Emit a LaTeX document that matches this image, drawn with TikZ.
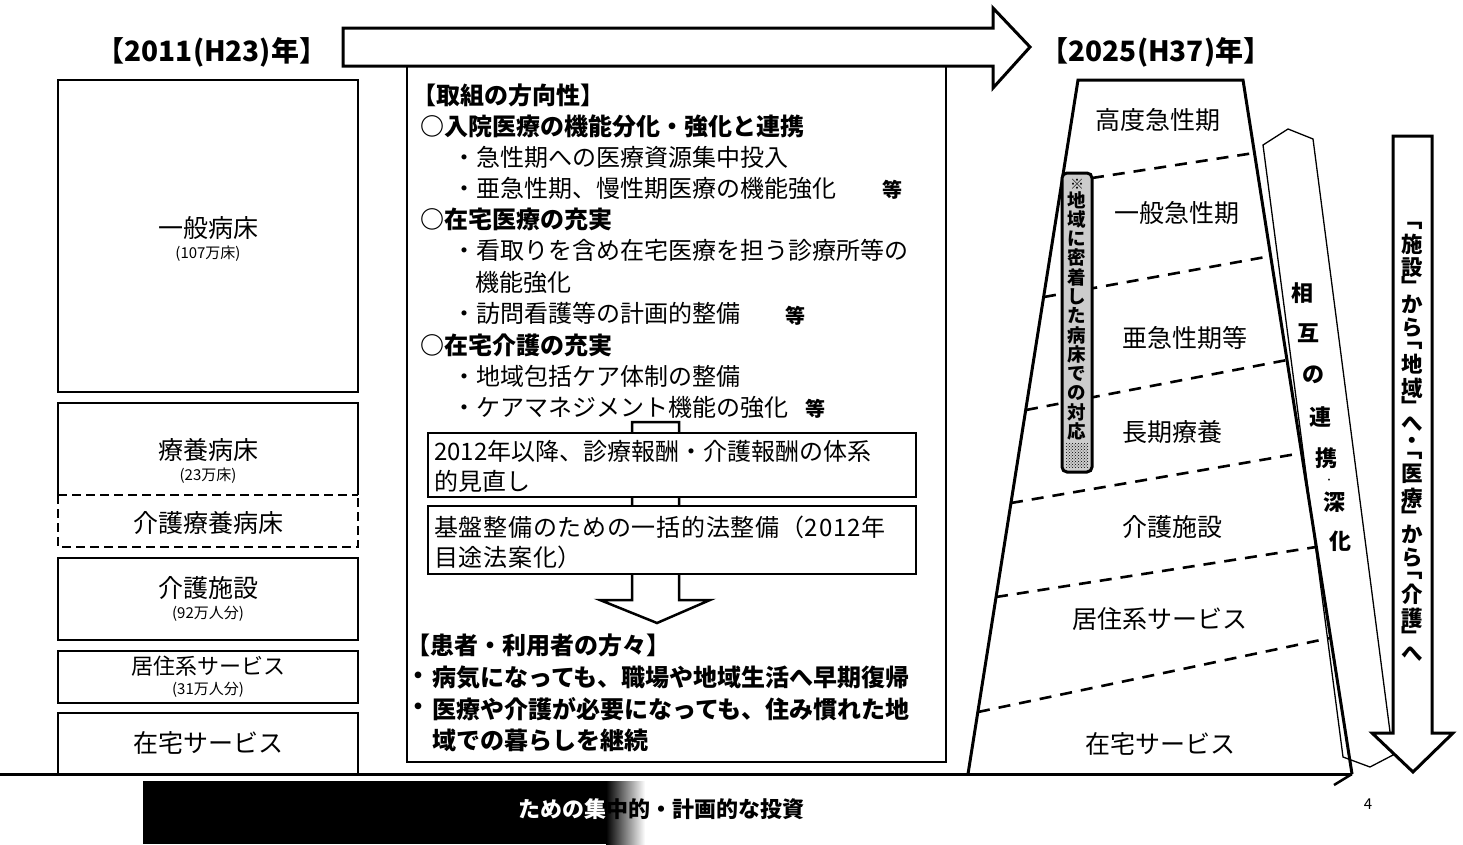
\documentclass[tikz,border=0pt]{standalone}
\usepackage{fontspec}
\setmainfont{Noto Sans CJK JP}
\usetikzlibrary{patterns}
\newcommand\fsz[1]{\fontsize{#1}{#1}\selectfont}
\begin{document}
\begin{tikzpicture}[x=1pt,y=-1pt,
  thk/.style={line width=2.5pt},
  lbox/.style={draw,line width=2pt},
  dsh/.style={line width=2.6pt, dash pattern=on 12pt off 9pt},
  ldsh/.style={line width=2pt, dash pattern=on 9pt off 5pt},
  ltxt/.style={inner sep=0pt, font=\fsz{25}},
  lsmall/.style={inner sep=0pt, font=\fsz{15}},
  ctxt/.style={inner sep=0pt, anchor=west, font=\fsz{24}},
  cbold/.style={inner sep=0pt, anchor=west, font=\fsz{24}\bfseries},
  ttl/.style={inner sep=0pt, font=\fsz{28}\bfseries},
  rtxt/.style={inner sep=0pt, font=\fsz{25}},
  vch/.style={inner sep=0pt, font=\fsz{22}\bfseries},
  vcr/.style={inner sep=0pt, font=\fsz{21.5}\bfseries},
  pch/.style={inner sep=0pt, font=\fsz{18.5}\bfseries},
]
\useasboundingbox (0,0) rectangle (1463,844);
\fill[white] (0,0) rectangle (1463,844);

% ---------- titles ----------
\node[ttl] (t2011) at (212,52) {【2011(H23)年】};
\node[ttl] (t2025) at (1156,52) {【2025(H37)年】};

% ---------- top arrow ----------
\draw[line width=3pt, line join=miter, fill=white]
  (343,28) -- (993,28) -- (993,8) -- (1030,47) -- (993,88) -- (993,66) -- (343,66) -- cycle;

% ---------- left column ----------
\draw[lbox] (58,80) rectangle (358,392);
\node[ltxt] (ippan) at (208,228) {一般病床};
\node[lsmall] (ippann) at (208,254) {(107万床)};

\draw[line width=2pt] (58,495) -- (58,403) -- (358,403) -- (358,495);
\draw[ldsh] (58,495) -- (358,495);
\draw[ldsh] (58,495) -- (58,547) -- (358,547) -- (358,495);
\node[ltxt] (ryoyo) at (208,450) {療養病床};
\node[lsmall] (ryoyon) at (208,476) {(23万床)};
\node[ltxt] (kaigoryoyo) at (208,523) {介護療養病床};

\draw[lbox] (58,558) rectangle (358,640);
\node[ltxt] (shisetsu) at (208,588) {介護施設};
\node[lsmall] (shisetsun) at (208,614) {(92万人分)};

\draw[lbox] (58,651) rectangle (358,703);
\node[inner sep=0pt, font=\fsz{22}] (kyoju) at (208,666) {居住系サービス};
\node[lsmall] (kyojun) at (208,690) {(31万人分)};

\draw[line width=2pt] (58,774) -- (58,713) -- (358,713) -- (358,774);
\node[ltxt] (zaitaku) at (208,743) {在宅サービス};

% ---------- center box ----------
\draw[thk] (407,66) rectangle (946,762);
\node[cbold] (h1) at (412,95) {【取組の方向性】};
\node[cbold] (a1) at (420,126) {○入院医療の機能分化・強化と連携};
\node[ctxt] (a2) at (452,157) {・急性期への医療資源集中投入};
\node[ctxt] (a3) at (452,188) {・亜急性期、慢性期医療の機能強化};
\node[ctxt] (a3t) at (882,190) {\fsz{20}\bfseries 等};
\node[cbold] (b1) at (420,219) {○在宅医療の充実};
\node[ctxt] (b2) at (452,250) {・看取りを含め在宅医療を担う診療所等の};
\node[ctxt] (b3) at (475,282) {機能強化};
\node[ctxt] (b4) at (452,313) {・訪問看護等の計画的整備};
\node[ctxt] (b4t) at (785,316) {\fsz{20}\bfseries 等};
\node[cbold] (c1) at (420,345) {○在宅介護の充実};
\node[ctxt] (c2) at (452,376) {・地域包括ケア体制の整備};
\node[ctxt] (c3) at (452,407) {・ケアマネジメント機能の強化};
\node[ctxt] (c3t) at (805,409) {\fsz{20}\bfseries 等};

% hollow down arrow behind inner boxes
\draw[thk, line join=miter, fill=white]
  (632,422) -- (679,422) -- (679,600) -- (710,600) -- (657,623) -- (600,600) -- (632,600) -- cycle;
\draw[thk, fill=white] (428,433) rectangle (916,497);
\node[ctxt] (m1) at (434,451) {2012年以降、診療報酬・介護報酬の体系};
\node[ctxt] (m2) at (434,481) {的見直し};
\draw[thk, fill=white] (428,506) rectangle (916,574);
\node[ctxt] (n1) at (434,527) {\addfontfeature{LetterSpace=3}基盤整備のための一括的法整備（2012年};
\node[ctxt] (n2) at (434,557) {\addfontfeature{LetterSpace=3}目途法案化）};

\node[cbold] (p0) at (406,645) {【患者・利用者の方々】};
\node[inner sep=0pt, font=\fsz{24}\bfseries] (pb1) at (418,678) {・};
\node[cbold] (p1) at (432,678) {病気になっても、職場や地域生活へ早期復帰};
\node[inner sep=0pt, font=\fsz{24}\bfseries] (pb2) at (418,709) {・};
\node[cbold] (p2) at (432,709) {医療や介護が必要になっても、住み慣れた地};
\node[cbold] (p3) at (432,740) {域での暮らしを継続};

% ---------- right trapezoid ----------
\draw[line width=3pt, line join=miter] (968,774) -- (1078,80) -- (1243,80) -- (1352,774);
\draw[dsh] (1092,178) -- (1254,153);
\draw[dsh] (1044,297) -- (1271,256);
\draw[dsh] (1026,410) -- (1287,360);
\draw[dsh] (1011,503) -- (1302,453);
\draw[dsh] (996,597) -- (1316,547);
\draw[dsh] (978,712) -- (1330,638);

\node[rtxt] (k1) at (1158,120) {高度急性期};
\node[rtxt] (k2) at (1177,213) {一般急性期};
\node[rtxt] (k3) at (1185,338) {亜急性期等};
\node[rtxt] (k4) at (1172,432) {長期療養};
\node[rtxt] (k5) at (1172,527) {介護施設};
\node[rtxt] (k6) at (1160,619) {居住系サービス};
\node[rtxt] (k7) at (1160,744) {在宅サービス};

% pillar
\draw[line width=3pt, rounded corners=5pt, fill=black!20] (1062,173) rectangle (1092,472);
\fill[pattern=crosshatch dots] (1066,443) rectangle (1088,467);
\node[inner sep=0pt, font=\fsz{14}] (px) at (1077,184) {※};
\foreach \c [count=\i] in {地,域,に,密,着,し,た,病,床,で,の,対,応}
  \node[pch] (pc\i) at (1077,{200+(\i-1)*19.3}) {\c};

% mutual cooperation shape
\draw[line width=1.3pt, line join=miter] (1288,129) -- (1313,139) -- (1393,755) -- (1370,767) -- (1343,757) -- (1263,145) -- cycle;
\node[vch] (s1) at (1302,293) {相};
\node[vch] (s2) at (1308,333) {互};
\node[vch] (s3) at (1313,375) {の};
\node[vch] (s4) at (1320,417) {連};
\node[vch] (s5) at (1326,458) {携};
\node[inner sep=0pt, font=\fsz{9}] (s6) at (1329,481) {・};
\node[vch] (s7) at (1334,502) {深};
\node[vch] (s8) at (1340,541) {化};

% right down arrow
\draw[line width=3pt, line join=miter, fill=white]
  (1393,136) -- (1432,136) -- (1432,733) -- (1453,733) -- (1413,772) -- (1372,733) -- (1393,733) -- cycle;
\foreach \c/\y [count=\i] in {﹁/226,施/244,設/268,﹂/286,か/304,ら/328,﹁/346,地/364,域/388,﹂/406,へ/424,・/443,﹁/456,医/474,療/498,﹂/516,か/534,ら/558,﹁/576,介/594,護/618,﹂/636,へ/654}
  \node[vcr] (v\i) at (1412,\y) {\c};

% ---------- base line ----------
\draw[line width=3pt] (0,774) -- (1352,774);
\draw[line width=2.5pt] (1352,774) -- (1334,785);

% ---------- bottom bar ----------
\fill[black] (143,781) rectangle (606,844);
\shade[left color=black, right color=white] (606,781) rectangle (645,844);
\node[inner sep=0pt, anchor=west, font=\fsz{22}\bfseries] (invest) at (518,809)
  {\textcolor{white}{ための集}中的・計画的な投資};

\node[inner sep=0pt, font=\fsz{15}] (pg) at (1368,804) {4};
\end{tikzpicture}
\end{document}
